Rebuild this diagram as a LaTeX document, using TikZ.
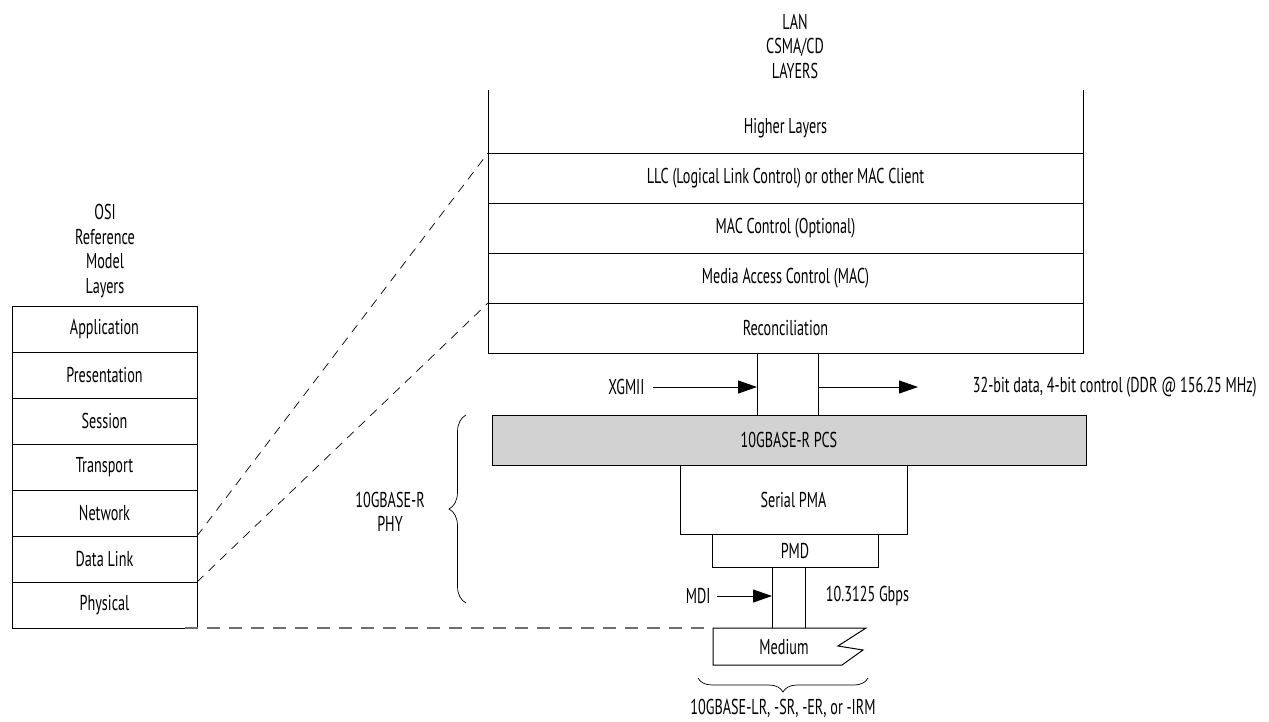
\documentclass[tikz,border=0pt]{standalone}
\usepackage{fontspec}
\setmainfont{PT Sans}[FakeStretch=0.66]
\usetikzlibrary{positioning,arrows.meta,decorations.pathreplacing}
\definecolor{pcsgray}{RGB}{210,210,210}
\definecolor{dashgray}{RGB}{110,110,110}

\begin{document}
\begin{tikzpicture}[x=1pt, y=-1pt, line width=1pt,
  font=\fontsize{21.5}{24.5}\selectfont,
  osi/.style={draw, minimum width=185pt, minimum height=46pt, inner sep=0pt, outer sep=0pt},
  lan/.style={draw, minimum width=595pt, minimum height=50pt, inner sep=0pt, outer sep=0pt},
  bus/.style={inner sep=0pt, outer sep=0pt, anchor=north west},
  tip/.style={-{Triangle[length=19pt,width=13pt]}},
  link/.style={dash pattern=on 9pt off 7pt, line width=0.7pt}]

\useasboundingbox (0,0) rectangle (1269,721);

% OSI stack
\node[align=center] (osititle) at (105,251) {OSI\\Reference\\Model\\Layers};
\node[osi] (app) at (104.5,329) {Application};
\node[osi, below=0pt of app] (pres) {Presentation};
\node[osi, below=0pt of pres] (sess) {Session};
\node[osi, below=0pt of sess] (trans) {Transport};
\node[osi, below=0pt of trans] (net) {Network};
\node[osi, below=0pt of net] (dlink) {Data Link};
\node[osi, below=0pt of dlink] (phys) {Physical};

% LAN stack
\node[align=center] (lantitle) at (795,46) {LAN\\CSMA/CD\\LAYERS};
\node[minimum width=595pt, minimum height=63pt, inner sep=0pt, outer sep=0pt, text height=28pt, text depth=5pt] (higher) at (785.5,121.5) {Higher Layers};
\node[lan, below=0pt of higher] (llc) {LLC (Logical Link Control) or other MAC Client};
\node[lan, below=0pt of llc] (macctrl) {MAC Control (Optional)};
\node[lan, below=0pt of macctrl] (mac) {Media Access Control (MAC)};
\node[lan, below=0pt of mac] (recon) {Reconciliation};
\draw (higher.north west) -- (higher.south west);
\draw (higher.north east) -- (higher.south east);

% PHY
\node[bus, minimum width=61pt, minimum height=62pt] (xgmiibus) at (757,353) {};
\node[draw, fill=pcsgray, minimum width=594pt, minimum height=50pt, inner sep=0pt, outer sep=0pt] (pcs) at (789,440) {10GBASE-R PCS};
\node[draw, minimum width=227pt, minimum height=69pt, inner sep=0pt, outer sep=0pt] (pma) at (793.5,499.5) {Serial PMA};
\node[draw, minimum width=166pt, minimum height=33pt, inner sep=0pt, outer sep=0pt] (pmd) at (795,550.5) {PMD};
\node[bus, minimum width=33pt, minimum height=61pt] (mdibus) at (772,567) {};
\draw (xgmiibus.north west) -- (xgmiibus.south west);
\draw (xgmiibus.north east) -- (xgmiibus.south east);
\draw (mdibus.north west) -- (mdibus.south west);
\draw (mdibus.north east) -- (mdibus.south east);

% Medium
\coordinate (medtl) at (713,628);
\draw (medtl) -- (866,628) -- (838,646) -- (863,650) -- (842,665) -- (713,665) -- cycle;
\node (medium) at (784,647) {Medium};

% Labels
\node[anchor=east, inner xsep=8pt] (xgmii) at (653,387) {XGMII};
\coordinate (xgmiiout) at (918,387);
\node[anchor=west] (xgmiidata) at (969,387) {32-bit data, 4-bit control (DDR @ 156.25 MHz)};
\node[anchor=east, inner xsep=6pt] (mdi) at (717,596) {MDI};
\node[anchor=west] (rate) at (822,596) {10.3125 Gbps};
\node[align=center] (phy) at (390,512) {10GBASE-R\\PHY};
\node (pmdtypes) at (783,708) {10GBASE-LR, -SR, -ER, or -IRM};

% Arrows
\draw[tip] (xgmii.east) -- (xgmii.east -| xgmiibus.west);
\draw[tip] (xgmiibus.east |- xgmiiout) -- (xgmiiout);
\draw[tip] (mdi.east) -- (mdi.east -| mdibus.west);

% Dashed links
\draw[link] (net.south east) -- (llc.north west);
\draw[link] (dlink.south east) -- (recon.north west);
\draw[dashgray, dash pattern=on 13pt off 9pt, line width=1.1pt] ([xshift=-12pt]phys.south east) -- (medtl);

% Braces
\draw[line width=0.7pt, decorate, decoration={brace, amplitude=17pt}] (466,603) -- (466,415);
\draw[line width=0.7pt, decorate, decoration={brace, amplitude=14pt}] (868,678) -- (698,678);
\end{tikzpicture}
\end{document}
